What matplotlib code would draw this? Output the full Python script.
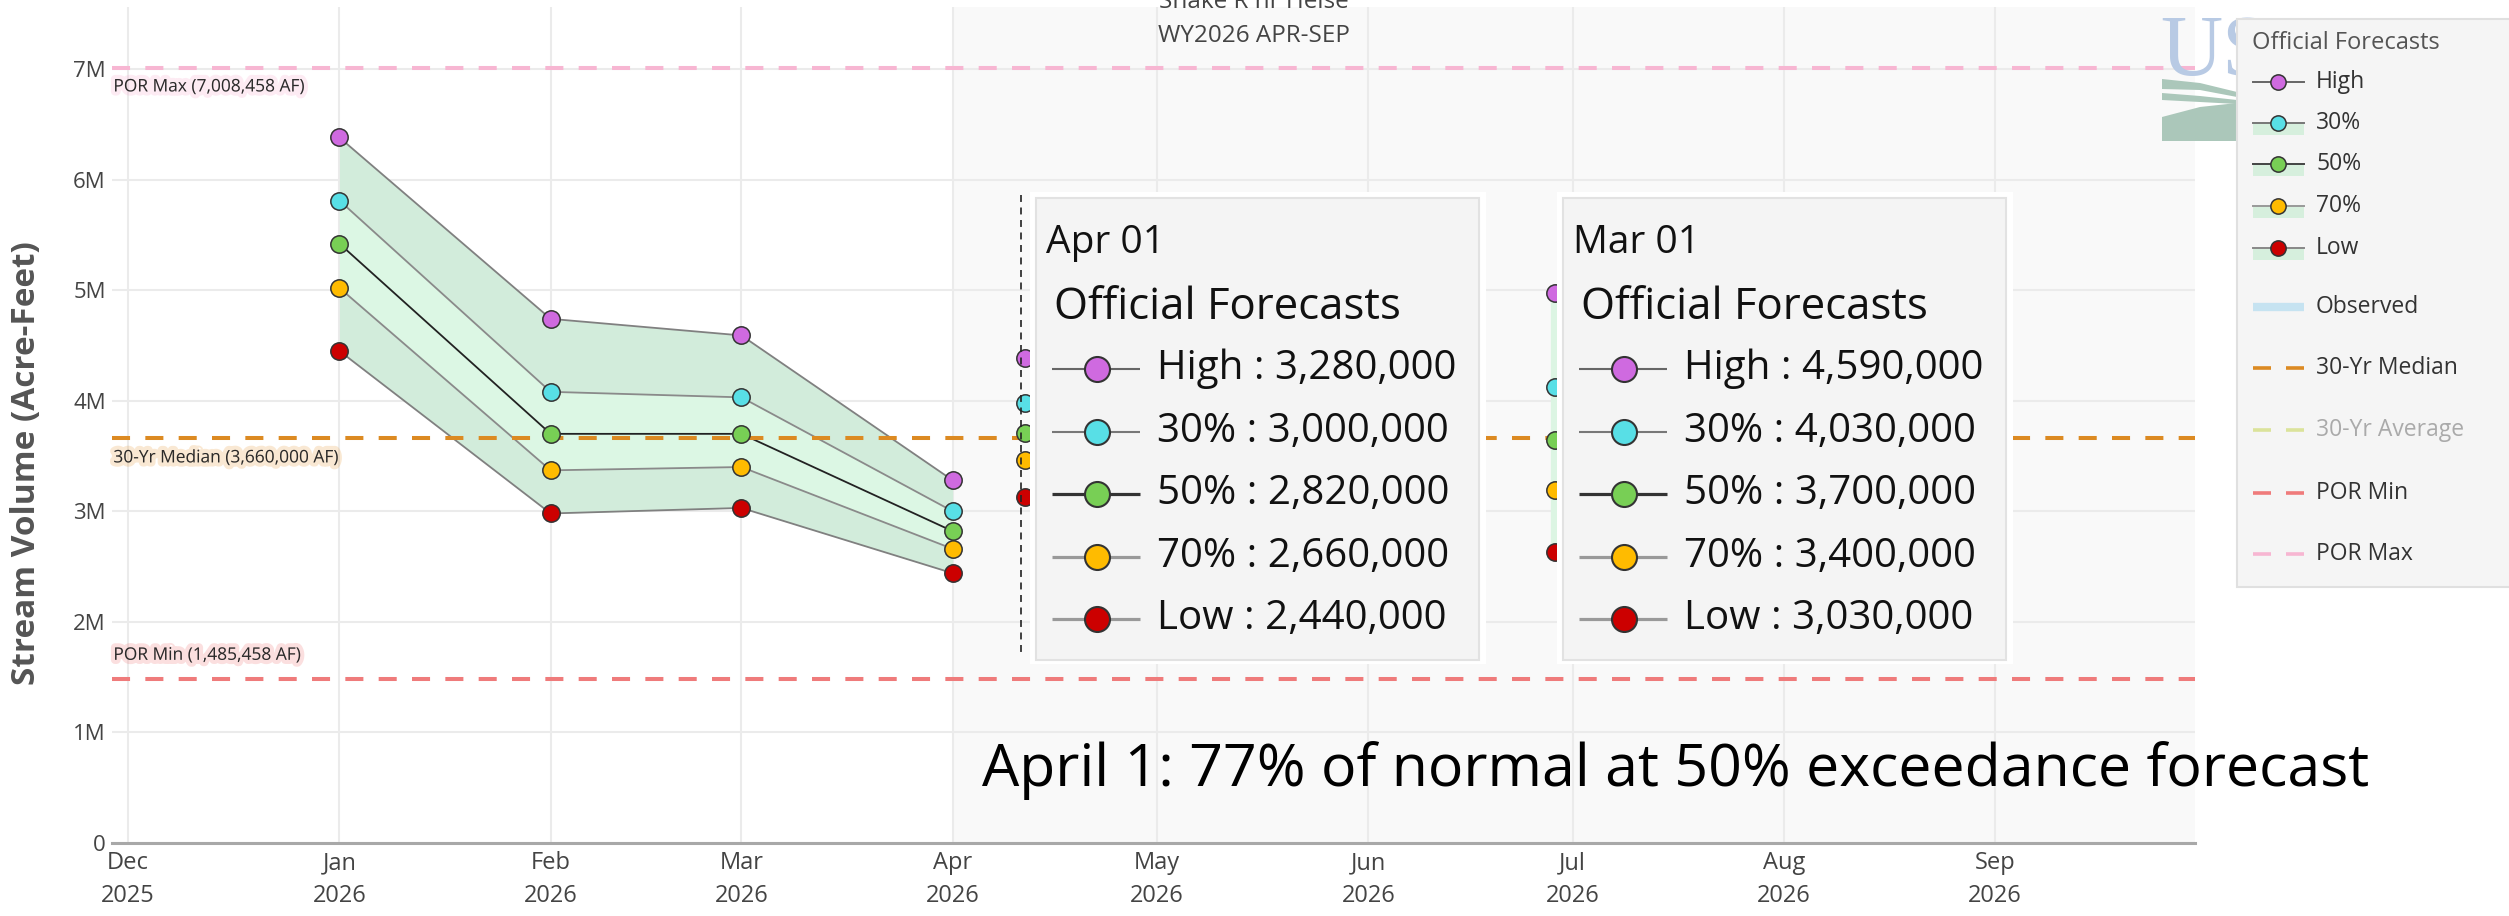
"""
Snake R nr Heise - WY2026 APR-SEP official volume forecasts
"""

### Import modules
import datetime as dt
import matplotlib
matplotlib.use('Agg')
import matplotlib.pyplot as plt
import matplotlib.patheffects as pe
from matplotlib.patches import Rectangle, Polygon

plt.rcParams['font.family'] = ['Open Sans', 'DejaVu Sans']
plt.rcParams['lines.scale_dashes'] = False

### Forecast issue dates and volumes (acre-feet)
issue_dates = [dt.datetime(2026, 1, 1), dt.datetime(2026, 2, 1),
               dt.datetime(2026, 3, 1), dt.datetime(2026, 4, 1)]
fc_high = [6380000, 4740000, 4590000, 3280000]
fc_30 = [5810000, 4080000, 4030000, 3000000]
fc_50 = [5420000, 3700000, 3700000, 2820000]
fc_70 = [5020000, 3370000, 3400000, 2660000]
fc_low = [4450000, 2980000, 3030000, 2440000]

series_names = ['High', '30%', '50%', '70%', 'Low']
series_colors = ['#cf6ae0', '#58dfe6', '#78cf55', '#ffbb00', '#cc0000']

### Reference statistics
por_max = 7008458
median_30yr = 3660000
por_min = 1485458

### Hover markers that peek out beside the two tooltips
hover_dates = [dt.datetime(2026, 4, 11, 16), dt.datetime(2026, 6, 28, 10)]
hover_apr = [4385000, 3980000, 3710000, 3460000, 3130000]
hover_jun = [4970000, 4120000, 3640000, 3190000, 2630000]

### Axis ticks
month_ticks = [dt.datetime(2025, 12, 1)] + [dt.datetime(2026, m, 1) for m in range(1, 10)]
month_labels = [d.strftime('%b\n%Y') for d in month_ticks]
yticks = [0, 1e6, 2e6, 3e6, 4e6, 5e6, 6e6, 7e6]
ylabels = ['0', '1M', '2M', '3M', '4M', '5M', '6M', '7M']

note = 'April 1: 77% of normal at 50% exceedance forecast'

###############################################################################
### Plot figure
W, H = 2509, 916
fig = plt.figure(figsize=(W / 100, H / 100), dpi=100)
ax = fig.add_axes([112 / W, 1 - 843 / H, (2195 - 112) / W, (843 - 7) / H])
x0, x1 = dt.datetime(2025, 11, 28, 15), dt.datetime(2026, 9, 30, 8)
ax.set_xlim(x0, x1)
ax.set_ylim(0, 7.56e6)

ax.axvspan(dt.datetime(2026, 4, 1), x1, color='#f9f9f9', zorder=0, lw=0)
ax.set_axisbelow(True)
ax.grid(True, color='#ebebeb', lw=1.5)

ax.set_xticks(month_ticks)
ax.set_xticklabels(month_labels, linespacing=1.5)
ax.set_yticks(yticks)
ax.set_yticklabels(ylabels)
ax.tick_params(axis='x', length=0, pad=6, labelsize=17, labelcolor='#444')
ax.tick_params(axis='y', length=0, pad=4.5, labelsize=16, labelcolor='#444')
for s in ['top', 'right', 'left']:
    ax.spines[s].set_visible(False)
ax.spines['bottom'].set_color('#a8a8a8')
ax.spines['bottom'].set_linewidth(2.2)

### Forecast bands
ax.fill_between(issue_dates, fc_low, fc_high, color='#d2ecdb', lw=0, zorder=1)
ax.fill_between(issue_dates, fc_70, fc_30, color='#dcf7e4', lw=0, zorder=1.1)
ax.vlines(hover_dates[1], hover_jun[-1], hover_jun[0], color='#dcf5e3', lw=6, zorder=1)

line_cols = ['#808080', '#8a8a8a', '#222222', '#8a8a8a', '#808080']
allfc = [fc_high, fc_30, fc_50, fc_70, fc_low]
for vals, lc in zip(allfc, line_cols):
    ax.plot(issue_dates, vals, color=lc, lw=1.3, zorder=2)

### Reference lines
dash = (0, (13, 11))
ax.axhline(por_max, color='#f7b6d2', lw=2.9, ls=dash, zorder=3)
ax.axhline(median_30yr, color='#dc8a22', lw=2.9, ls=dash, zorder=3)
ax.axhline(por_min, color='#ef7b7b', lw=2.9, ls=dash, zorder=3)

def glow_label(text, yval, dy, glow):
    ax.annotate(text, xy=(0, yval), xycoords=('axes fraction', 'data'),
                xytext=(1, dy), textcoords='offset points', va='center',
                fontsize=12.5, color='#2a2a2a', zorder=5,
                path_effects=[pe.withStroke(linewidth=6, foreground=glow, alpha=0.22)])

glow_label('POR Max (7,008,458 AF)', por_max, -14, '#f7a6cc')
glow_label('30-Yr Median (3,660,000 AF)', median_30yr, -14.5, '#e89a3a')
glow_label('POR Min (1,485,458 AF)', por_min, 16.5, '#ee7070')

### Markers
for vals, mc in zip(allfc, series_colors):
    ax.plot(issue_dates, vals, 'o', ms=12.5, mfc=mc, mec='#333333', mew=1.1, zorder=4)
for i, mc in enumerate(series_colors):
    ax.plot([hover_dates[0]], [hover_apr[i]], 'o', ms=12.5, mfc=mc, mec='#333333', mew=1.1, zorder=4)
    ax.plot([hover_dates[1]], [hover_jun[i]], 'o', ms=12.5, mfc=mc, mec='#333333', mew=1.1, zorder=4)

###############################################################################
### Overlay in pixel coordinates for tooltips, legend and notes
ov = fig.add_axes([0, 0, 1, 1])
ov.set_xlim(0, W)
ov.set_ylim(H, 0)
ov.axis('off')

# USDA logo peeking out behind the legend
logo_clip = Rectangle((2150, 0), 87, 150, transform=ov.transData)
logo = ov.text(2160, 75, 'US', family='Liberation Serif', fontsize=62, color='#b8cae4',
               va='baseline', ha='left', zorder=0.5)
logo.set_clip_path(logo_clip)
sage = '#abc7ba'
ov.add_patch(Polygon([(2162, 79), (2200, 83), (2237, 92), (2237, 97), (2200, 90), (2162, 89)],
                     fc=sage, ec='none', zorder=0.5))
ov.add_patch(Polygon([(2162, 93), (2200, 96), (2237, 100), (2237, 104), (2200, 102), (2162, 100)],
                     fc=sage, ec='none', zorder=0.5))
ov.add_patch(Polygon([(2162, 117), (2200, 107), (2237, 103), (2237, 141), (2162, 141)],
                     fc=sage, ec='none', zorder=0.5))

# hover spike line
ov.plot([1021, 1021], [195, 657], color='#222222', lw=1.2, ls=(0, (5, 4)))

def tooltip(bx, title, idx):
    ov.add_patch(Rectangle((bx - 6, 192), 456, 472, fc='white', ec='none', zorder=1))
    ov.add_patch(Rectangle((bx, 198), 443, 462, fc='#f4f4f4', ec='#e2e2e2', lw=1.5, zorder=1))
    ov.text(bx + 10, 243, title, fontsize=28, va='center', color='#111111')
    ov.text(bx + 18, 308, 'Official Forecasts', fontsize=31.5, va='center', color='#111111')
    tcol = ['#666666', '#777777', '#333333', '#999999', '#999999']
    tlw = [1.5, 1.5, 2.3, 2.3, 2.3]
    for i, (name, vals) in enumerate(zip(series_names, allfc)):
        y = 369 + i * 62.5
        ov.plot([bx + 16, bx + 104], [y, y], color=tcol[i], lw=tlw[i], solid_capstyle='butt', zorder=2)
        ov.plot(bx + 61, y, 'o', ms=18, mfc=series_colors[i], mec='#333333', mew=1.5, zorder=2.5)
        ov.text(bx + 121, y, f'{name} : {vals[idx]:,}', fontsize=29, va='center',
                color='#111111', zorder=3)

tooltip(1036, 'Apr 01', 3)
tooltip(1563, 'Mar 01', 2)

# legend
ov.add_patch(Rectangle((2237, 19), 320, 568, fc='#f5f5f5', ec='#e0e0e0', lw=1.5, zorder=1))
ov.text(2252, 43, 'Official Forecasts', fontsize=17, va='center', color='#555555', zorder=3)
leg_y = [82, 123, 164, 206, 248]
leg_lc = ['#666666', '#777777', '#444444', '#999999', '#888888']
for i, name in enumerate(series_names):
    y = leg_y[i]
    if i > 0:
        ov.add_patch(Rectangle((2253, y - 1), 51, 13, fc='#d6efdd', ec='none', zorder=1.5))
    ov.plot([2253, 2304], [y, y], color=leg_lc[i], lw=1.4, zorder=2)
    ov.plot(2278, y, 'o', ms=11, mfc=series_colors[i], mec='#333333', mew=1.1, zorder=2.5)
    ov.text(2316, y, name, fontsize=16.5, va='center', color='#333333', zorder=3)

ov.plot([2253, 2304], [307, 307], color='#c6e3f1', lw=6, solid_capstyle='butt', zorder=2)
ov.text(2316, 307, 'Observed', fontsize=16.5, va='center', color='#333333', zorder=3)

dashed_items = [('30-Yr Median', 368, '#dc8a22', '#333333'),
                ('30-Yr Average', 430, '#dbe39b', '#aaaaaa'),
                ('POR Min', 493, '#ef7b7b', '#333333'),
                ('POR Max', 554, '#f7b6d2', '#333333')]
for name, y, lc, tc in dashed_items:
    ov.plot([2253, 2271], [y, y], color=lc, lw=2.6, solid_capstyle='butt', zorder=2)
    ov.plot([2286, 2304], [y, y], color=lc, lw=2.6, solid_capstyle='butt', zorder=2)
    ov.text(2316, y, name, fontsize=16.5, va='center', color=tc, zorder=3)

# titles and labels
ov.text(1254, 8, 'Snake R nr Heise', ha='center', va='baseline', fontsize=17.5, color='#444444')
ov.text(1254, 42, 'WY2026 APR-SEP', ha='center', va='baseline', fontsize=17.5, color='#444444')
ov.text(27, 463, 'Stream Volume (Acre-Feet)', rotation=90, ha='center', va='center',
        fontsize=24, fontweight='bold', color='#555555')
ov.text(982, 771, note, fontsize=42.5, va='center', ha='left', color='black')

plt.savefig('out.png', dpi=100)
